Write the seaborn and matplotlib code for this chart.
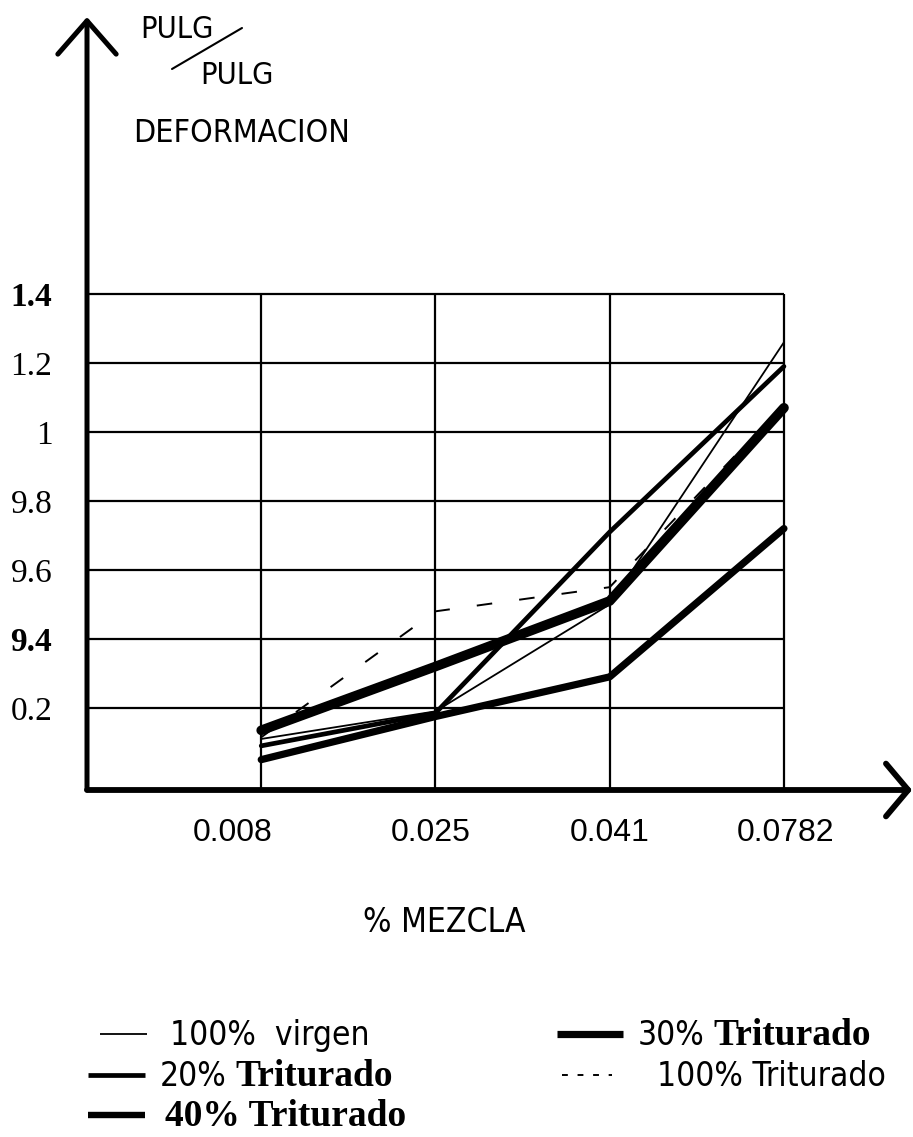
import numpy as np
import pandas as pd
import matplotlib
matplotlib.use("Agg")
import matplotlib.pyplot as plt
import matplotlib.transforms as mtransforms
from matplotlib import font_manager as fm
from matplotlib.lines import Line2D
from matplotlib.text import Annotation
import seaborn as sns

# ---------------- data ----------------
mezcla = ["0.008", "0.025", "0.041", "0.0782"]
series_names = ["100% virgen", "20% Triturado", "30% Triturado",
                "40% Triturado", "100% Triturado"]
virgen_100 = [0.11, 0.19, 0.50, 1.26]
triturado_20 = [0.09, 0.185, 0.71, 1.19]
triturado_30 = [0.135, 0.32, 0.51, 1.07]
triturado_40 = [0.05, 0.175, 0.29, 0.72]
triturado_100 = [0.115, 0.48, 0.55, 1.08]
ytick_values = [0.2, 0.4, 0.6, 0.8, 1.0, 1.2, 1.4]
ytick_labels = ["0.2", "9.4", "9.6", "9.8", "1", "1.2", "1.4"]
ytick_bold = ["1.4", "9.4"]

# ---------------- style ----------------
sns.set_style("white")
SANS = ["Liberation Sans", "DejaVu Sans"]
SERIF = ["Liberation Serif", "DejaVu Serif"]
plt.rcParams["font.family"] = SANS
plt.rcParams["text.color"] = "black"
plt.rcParams["xtick.color"] = "black"
plt.rcParams["ytick.color"] = "black"
plt.rcParams["xtick.labelcolor"] = "black"
plt.rcParams["ytick.labelcolor"] = "black"


# find a condensed / narrow sans face for the plotter-style lettering
def find_condensed():
    prefs = ["liberation sans narrow", "dejavu sans", "noto sans", "roboto",
             "open sans"]
    cands = []
    for f in fm.fontManager.ttflist:
        fname = f.fname.lower()
        nm = f.name.lower()
        if f.style != "normal" or f.weight not in (400, "normal", "regular"):
            continue
        if not ("condensed" in fname or "narrow" in fname or "narrow" in nm
                or "condensed" in nm):
            continue
        if "semicondensed" in fname or "extracondensed" in fname:
            continue
        rank = next((i for i, p in enumerate(prefs) if nm.startswith(p)), 99)
        if rank < 99:
            cands.append((rank, f.fname))
    if cands:
        cands.sort()
        return cands[0][1]
    return None


COND_FILE = find_condensed()


def cond_props(size):
    if COND_FILE:
        return fm.FontProperties(fname=COND_FILE, size=size)
    return fm.FontProperties(family=SANS, size=size * 0.9)


W, H = 913, 1137
fig = plt.figure(figsize=(W / 100, H / 100), dpi=100)
fig.patch.set_facecolor("white")


def fx(px):
    return px / W


def fy(py):
    return 1 - py / H


ax = fig.add_axes([fx(87), fy(790), fx(912) - fx(87), fy(17) - fy(790)])
ax.set_facecolor("white")

values = [virgen_100, triturado_20, triturado_30, triturado_40, triturado_100]
pos = np.arange(1, len(mezcla) + 1)
df = pd.DataFrame({
    "serie": np.repeat(series_names, len(mezcla)),
    "pos": np.tile(pos, len(series_names)),
    "mezcla": np.tile(mezcla, len(series_names)),
    "valor": np.concatenate(values),
})

widths = {"100% virgen": 1.3, "20% Triturado": 3.4, "30% Triturado": 7.0,
          "40% Triturado": 5.2, "100% Triturado": 1.4}
dashes = {"100% virgen": "", "20% Triturado": "", "30% Triturado": "",
          "40% Triturado": "", "100% Triturado": (8, 14)}
palette = {s: "black" for s in series_names}
draw_order = ["30% Triturado", "40% Triturado", "20% Triturado",
              "100% Triturado", "100% virgen"]

sns.lineplot(data=df, x="pos", y="valor", hue="serie", hue_order=draw_order,
             size="serie", sizes=widths, size_order=draw_order,
             style="serie", dashes=dashes, style_order=draw_order,
             palette=palette, estimator=None, sort=False, legend=False, ax=ax)

ymin, ymax = -0.038, 2.203
ax.set_xlim(0, 4.735)
ax.set_ylim(ymin, ymax)
for s in ax.spines.values():
    s.set_visible(False)

# grid
ax.hlines(ytick_values, 0, pos[-1], color="black", lw=1.6, zorder=0.5)
ax.vlines(pos, ymin, max(ytick_values), color="black", lw=1.6, zorder=0.5)

# axes with open arrow heads
ax.annotate("", xy=(0, ymax), xytext=(0, ymin), xycoords="data",
            arrowprops=dict(arrowstyle="->,head_length=24,head_width=21",
                            mutation_scale=1, lw=3.6, color="black",
                            shrinkA=0, shrinkB=0),
            annotation_clip=False)
ax.annotate("", xy=(4.735, ymin), xytext=(0, ymin), xycoords="data",
            arrowprops=dict(arrowstyle="->,head_length=16,head_width=19",
                            mutation_scale=1, lw=4.2, color="black",
                            shrinkA=0, shrinkB=0),
            annotation_clip=False)

# y ticks
ax.set_yticks(ytick_values, ytick_labels)
ax.tick_params(axis="y", length=0, pad=25)
for lab in ax.get_yticklabels():
    lab.set_fontfamily(SERIF)
    lab.set_fontsize(24)
    lab.set_color("black")
    if lab.get_text() in ytick_bold:
        lab.set_fontweight("bold")

# x ticks
ax.set_xticks(pos, mezcla)
ax.tick_params(axis="x", length=0, pad=20)
x_shift_px = [-29, -5, 0, 2]
for lab, dx in zip(ax.get_xticklabels(), x_shift_px):
    lab.set_fontfamily(SANS)
    lab.set_fontsize(23)
    lab.set_color("black")
    lab.set_transform(lab.get_transform() +
                      mtransforms.ScaledTranslation(dx / 100, 0, fig.dpi_scale_trans))
ax.set_xlabel("")
ax.set_ylabel("")

# axis titles
fig.text(fx(140), fy(29), "PULG", fontproperties=cond_props(22),
         ha="left", va="center")
fig.text(fx(200), fy(75), "PULG", fontproperties=cond_props(22),
         ha="left", va="center")
fig.add_artist(Line2D([fx(172), fx(242)], [fy(69), fy(28)], color="black",
                      lw=1.5, transform=fig.transFigure))
fig.text(fx(133), fy(133), "DEFORMACION", fontproperties=cond_props(23),
         ha="left", va="center")
fig.text(fx(444), fy(922), "% MEZCLA", fontproperties=cond_props(24),
         ha="center", va="center")

# legend (manual, two columns)
legend_rows = [
    (100, 147, 1045, widths["100% virgen"], None,
     [("100%  virgen", "cond", "normal", 24)], 170),
    (88, 145, 1086, widths["20% Triturado"], None,
     [("20%", "cond", "normal", 24), ("Triturado", "serif", "bold", 27)], 160),
    (88, 145, 1126, 4.6, None,
     [("40% Triturado", "serif", "bold", 27)], 165),
    (557, 623, 1045, 5.2, None,
     [("30%", "cond", "normal", 24), ("Triturado", "serif", "bold", 27)], 638),
    (562, 612, 1086, widths["100% Triturado"], (3, 5),
     [("100% Triturado", "cond", "normal", 24)], 657),
]


def piece_props(kind, weight, size):
    if kind == "cond":
        return cond_props(size)
    return fm.FontProperties(family=SERIF, weight=weight, size=size)


for x0, x1, base, lw, dsh, pieces, tx in legend_rows:
    yc = base - 11
    ln = Line2D([fx(x0), fx(x1)], [fy(yc), fy(yc)], color="black", lw=lw,
                transform=fig.transFigure, solid_capstyle="butt")
    if dsh:
        ln.set_dashes(dsh)
    fig.add_artist(ln)
    txt0, kind0, wt0, sz0 = pieces[0]
    prev = fig.text(fx(tx), fy(base), txt0,
                    fontproperties=piece_props(kind0, wt0, sz0),
                    ha="left", va="baseline", color="black")
    for txt, kind, wt, sz in pieces[1:]:
        prev = fig.add_artist(Annotation(
            txt, xy=(1, fy(base)), xycoords=(prev, "figure fraction"),
            xytext=(6, 0), textcoords="offset points", color="black",
            fontproperties=piece_props(kind, wt, sz),
            ha="left", va="baseline"))

fig.canvas.draw()
fig.savefig("out.png", dpi=100, facecolor="white")
